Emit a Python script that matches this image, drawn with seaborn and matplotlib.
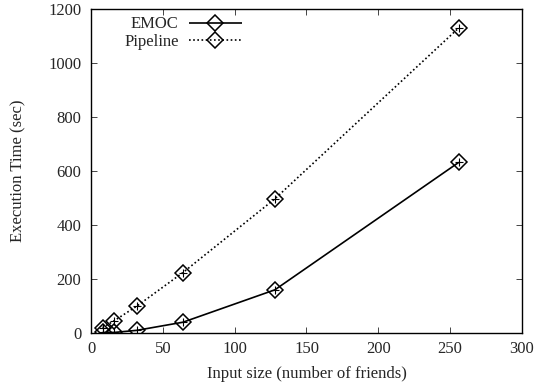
import matplotlib
matplotlib.use("Agg")
import matplotlib.pyplot as plt
import seaborn as sns
import pandas as pd
from matplotlib.lines import Line2D

sizes = [8, 16, 32, 64, 128, 256]
emoc = [2, 2, 10, 40, 160, 632]
pipeline = [20, 45, 100, 224, 497, 1130]

sns.set_style("ticks")
plt.rcParams['font.family'] = ['Liberation Serif', 'DejaVu Serif']
plt.rcParams['font.size'] = 12

df = pd.DataFrame({"size": sizes * 2, "time": emoc + pipeline,
                   "series": ["EMOC"] * len(sizes) + ["Pipeline"] * len(sizes)})

fig = plt.figure(figsize=(5.37, 3.87), dpi=100)
ax = fig.add_axes([0.1695, 0.1395, 0.8025, 0.8372])

styles = {"EMOC": (0, ()), "Pipeline": (0, (1, 1.5))}
for name in ["EMOC", "Pipeline"]:
    sub = df[df.series == name]
    sns.lineplot(data=sub, x="size", y="time", ax=ax, color="black", lw=1.2,
                 linestyle=styles[name], marker="D", markersize=8.5,
                 markerfacecolor="none", markeredgecolor="black", markeredgewidth=1.1,
                 legend=False)
    sns.scatterplot(data=sub, x="size", y="time", ax=ax, marker="+", s=40,
                    color="black", linewidth=0.8, legend=False, zorder=5)

ax.set_xlim(0, 300)
ax.set_ylim(0, 1200)
ax.set_xticks([0, 50, 100, 150, 200, 250, 300])
ax.set_yticks([0, 200, 400, 600, 800, 1000, 1200])
ax.tick_params(direction="in", top=True, right=True, length=4, width=0.6, labelsize=12)
ax.tick_params(axis="y", pad=7)
ax.tick_params(axis="x", pad=6)
for s in ax.spines.values():
    s.set_linewidth(1.0)
    s.set_color("black")
ax.set_xlabel("Input size (number of friends)", fontsize=12, labelpad=6)
ax.set_ylabel("Execution Time (sec)", fontsize=12, labelpad=16)

handles = [Line2D([], [], color="black", lw=1.2, linestyle=styles[n], marker="D", markersize=8.5,
                  markerfacecolor="none", markeredgecolor="black", markeredgewidth=1.1)
           for n in ["EMOC", "Pipeline"]]
leg = ax.legend(handles, ["EMOC", "Pipeline"], loc="upper right", bbox_to_anchor=(0.35, 0.977),
                borderpad=0, borderaxespad=0,
                frameon=False, markerfirst=False, fontsize=12, handlelength=3.2,
                labelspacing=0.08, handletextpad=0.6)
for t in leg.get_texts():
    t.set_ha("right")
leg._legend_box.align = "right"

fig.savefig("out.png", dpi=100)
